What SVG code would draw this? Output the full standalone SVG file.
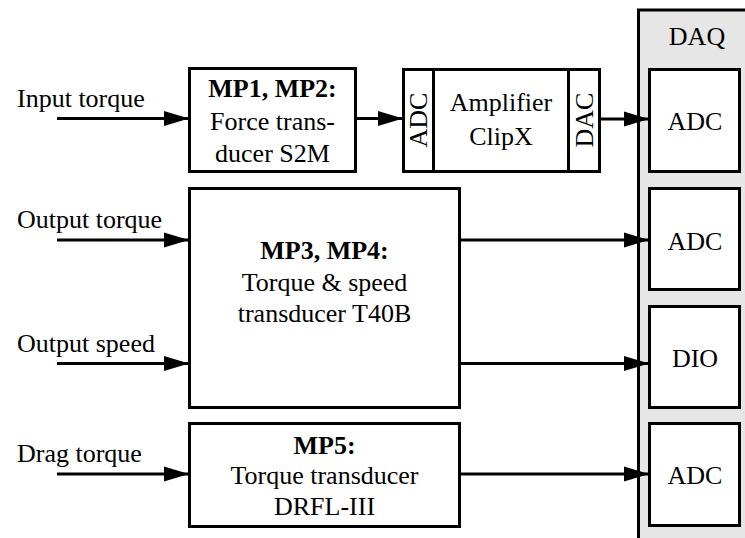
<svg xmlns="http://www.w3.org/2000/svg" width="745" height="538" viewBox="0 0 745 538" font-family="'Liberation Serif', 'Times New Roman', Times, 'DejaVu Serif', serif">
<style>
text{font-family:'Liberation Serif','Times New Roman',Times,'DejaVu Serif',serif;font-size:26px;fill:#000}
.c{text-anchor:middle}
.b{font-weight:bold}
.box{fill:#fff;stroke:#000;stroke-width:3}
.con{stroke:#000;stroke-width:3;fill:none}
</style>
<defs>
<marker id="ah" markerUnits="userSpaceOnUse" markerWidth="26" markerHeight="18" viewBox="0 0 26 18" refX="25" refY="9" orient="auto">
<path d="M0,1.5 L25,9 L0,16.5 Z" fill="#000"/>
</marker>
</defs>
<g id="daq">
<rect x="638.5" y="10" width="120" height="540" fill="#e6e6e6" stroke="#000" stroke-width="3"/>
<text class="c" x="697" y="45">DAQ</text>
</g>
<g id="daq-adc1"><rect class="box" x="649.5" y="69.5" width="90" height="102"/><text class="c" x="695" y="130">ADC</text></g>
<g id="daq-adc2"><rect class="box" x="649.5" y="188.5" width="90" height="101"/><text class="c" x="695" y="250">ADC</text></g>
<g id="daq-dio"><rect class="box" x="649.5" y="306.5" width="90" height="101"/><text class="c" x="695" y="367">DIO</text></g>
<g id="daq-adc3"><rect class="box" x="649.5" y="423.5" width="90" height="102"/><text class="c" x="695" y="484">ADC</text></g>
<g id="mp12">
<rect class="box" x="189.5" y="68.5" width="166" height="103"/>
<text class="c b" x="272.5" y="97">MP1, MP2:</text>
<text class="c" x="272.5" y="130">Force trans-</text>
<text class="c" x="272.5" y="162">ducer S2M</text>
</g>
<g id="amplifier">
<rect class="box" x="403.5" y="69.5" width="196" height="102"/>
<line class="con" x1="433.5" y1="69.5" x2="433.5" y2="171.5"/>
<line class="con" x1="568.5" y1="69.5" x2="568.5" y2="171.5"/>
<text class="c" transform="translate(427,120) rotate(-90)">ADC</text>
<text class="c" transform="translate(593,120) rotate(-90)">DAC</text>
<text class="c" x="501" y="111">Amplifier</text>
<text class="c" x="501" y="145">ClipX</text>
</g>
<g id="mp34">
<rect class="box" x="189.5" y="188.5" width="270" height="219"/>
<text class="c b" x="324.5" y="259">MP3, MP4:</text>
<text class="c" x="324.5" y="291">Torque &amp; speed</text>
<text class="c" x="324.5" y="322">transducer T40B</text>
</g>
<g id="mp5">
<rect class="box" x="189.5" y="423.5" width="270" height="103"/>
<text class="c b" x="324.5" y="454">MP5:</text>
<text class="c" x="324.5" y="484">Torque transducer</text>
<text class="c" x="324.5" y="515">DRFL-III</text>
</g>
<g id="labels">
<text x="17" y="107">Input torque</text>
<text x="17" y="228">Output torque</text>
<text x="17" y="352">Output speed</text>
<text x="17" y="462">Drag torque</text>
</g>
<g id="connectors">
<line class="con" x1="57" y1="118.5" x2="189" y2="118.5" marker-end="url(#ah)"/>
<line class="con" x1="356" y1="118.5" x2="403" y2="118.5" marker-end="url(#ah)"/>
<line class="con" x1="600" y1="119" x2="649" y2="119" marker-end="url(#ah)"/>
<line class="con" x1="57" y1="240" x2="189" y2="240" marker-end="url(#ah)"/>
<line class="con" x1="460" y1="240" x2="649" y2="240" marker-end="url(#ah)"/>
<line class="con" x1="57" y1="363.5" x2="189" y2="363.5" marker-end="url(#ah)"/>
<line class="con" x1="460" y1="363.5" x2="649" y2="363.5" marker-end="url(#ah)"/>
<line class="con" x1="57" y1="474" x2="189" y2="474" marker-end="url(#ah)"/>
<line class="con" x1="460" y1="474" x2="649" y2="474" marker-end="url(#ah)"/>
</g>
</svg>
